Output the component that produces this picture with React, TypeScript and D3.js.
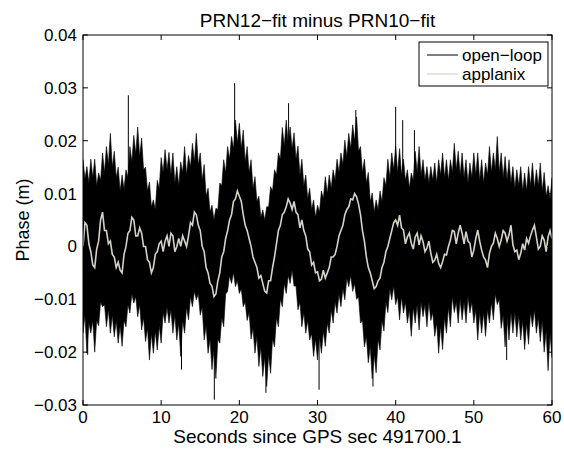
import React from "react";
import * as d3 from "d3";

// Sample spacing (s) for the series below
const T_STEP = 0.25;
// values below are in millimetres
const MM = 0.001;

const xTicks = [0, 10, 20, 30, 40, 50, 60];
const xTickLabels = ["0", "10", "20", "30", "40", "50", "60"];
const yTicks = [-0.03, -0.02, -0.01, 0, 0.01, 0.02, 0.03, 0.04];
const yTickLabels = ["\u22120.03", "\u22120.02", "\u22120.01", "0", "0.01", "0.02", "0.03", "0.04"];

const titleText = "PRN12\u2212fit minus PRN10\u2212fit";
const xLabelText = "Seconds since GPS sec 491700.1";
const yLabelText = "Phase (m)";
const seriesNames = ["open\u2212loop", "applanix"];

// open-loop: upper edge of the dense noise band (mm), every 0.25 s
const olUpper = [
  16.4, 12.8, 15.1, 12.0,
  16.5, 13.0, 16.5, 11.5,
  13.9, 12.5, 17.7, 14.0,
  18.9, 15.5, 21.4, 15.0,
  18.0, 13.0, 15.0, 10.5,
  13.5, 10.8, 14.5, 13.0,
  18.9, 16.0, 21.0, 17.5,
  22.6, 17.0, 20.5, 14.5,
  15.0, 10.5, 12.2, 7.5,
  8.8, 7.0, 12.5, 11.0,
  16.8, 14.0, 18.3, 14.5,
  17.8, 13.5, 17.7, 12.0,
  15.1, 11.5, 16.0, 14.0,
  18.9, 13.5, 17.2, 15.0,
  19.5, 16.0, 21.4, 15.5,
  17.7, 12.5, 15.5, 9.5,
  11.0, 6.5, 7.8, 5.0,
  7.2, 7.0, 12.0, 11.5,
  16.4, 14.0, 18.9, 16.5,
  20.8, 18.5, 23.9, 19.5,
  23.3, 18.5, 22.0, 16.0,
  18.9, 14.0, 16.4, 11.0,
  13.2, 8.5, 9.5, 5.5,
  6.9, 5.0, 7.5, 7.5,
  11.3, 10.5, 14.5, 13.5,
  17.7, 16.5, 22.5, 19.0,
  23.9, 19.5, 22.6, 18.5,
  21.5, 16.5, 19.0, 13.5,
  16.5, 11.5, 13.5, 9.0,
  11.0, 7.0, 8.8, 5.5,
  7.8, 6.5, 10.5, 9.0,
  13.2, 10.0, 13.5, 11.0,
  14.5, 12.5, 16.5, 14.0,
  17.7, 15.5, 20.1, 17.0,
  21.4, 18.5, 23.0, 20.0,
  24.5, 18.0, 18.9, 14.0,
  16.5, 12.0, 14.0, 8.5,
  10.1, 6.5, 8.8, 7.0,
  10.5, 8.5, 13.0, 11.5,
  16.5, 13.0, 17.7, 14.5,
  18.9, 14.0, 18.5, 13.5,
  16.5, 12.5, 14.5, 11.0,
  13.9, 12.5, 18.0, 14.0,
  18.9, 13.5, 16.4, 12.5,
  15.1, 12.0, 15.1, 12.5,
  15.8, 12.0, 16.4, 13.5,
  17.7, 13.0, 16.4, 12.5,
  16.4, 14.0, 19.5, 14.5,
  18.0, 13.5, 17.7, 13.0,
  16.4, 12.0, 15.8, 13.0,
  17.7, 13.5, 17.7, 12.5,
  16.4, 12.0, 15.8, 13.5,
  18.9, 14.0, 17.7, 14.5,
  20.8, 14.0, 17.7, 13.0,
  17.0, 12.5, 16.4, 12.0,
  15.1, 11.0, 14.5, 11.5,
  15.1, 10.5, 13.9, 10.5,
  15.1, 11.5, 15.8, 11.0,
  14.5, 11.5, 15.8, 10.5,
  14.0, 9.5, 11.5, 9.0,
  13.0,
];

// open-loop: lower edge of the noise band (mm), every 0.25 s
const olLower = [
  -16.4, -13.0, -20.2, -14.5,
  -16.4, -14.0, -20.0, -14.0,
  -15.0, -10.5, -11.4, -11.0,
  -15.2, -12.0, -16.4, -13.0,
  -17.1, -14.0, -18.3, -15.0,
  -18.9, -14.0, -15.2, -11.0,
  -12.6, -9.0, -10.7, -9.5,
  -13.3, -11.0, -15.8, -13.5,
  -18.0, -15.5, -21.5, -16.5,
  -20.2, -16.0, -19.6, -15.0,
  -18.3, -12.5, -14.5, -11.5,
  -14.5, -12.0, -16.4, -13.0,
  -17.7, -14.5, -20.8, -14.0,
  -16.4, -11.5, -13.9, -9.5,
  -11.4, -8.5, -10.1, -9.0,
  -13.0, -11.5, -17.7, -15.0,
  -20.2, -17.5, -23.3, -19.5,
  -25.0, -17.5, -18.3, -13.5,
  -15.2, -9.0, -8.5, -5.5,
  -7.0, -5.0, -7.6, -6.5,
  -8.9, -8.0, -11.4, -10.5,
  -14.0, -12.5, -17.5, -15.5,
  -20.2, -17.0, -22.7, -19.0,
  -24.6, -21.0, -26.5, -20.5,
  -24.0, -17.5, -19.0, -13.5,
  -15.2, -10.0, -11.4, -7.0,
  -8.9, -5.5, -7.0, -4.5,
  -7.5, -7.5, -12.0, -10.5,
  -15.2, -12.5, -16.4, -14.0,
  -17.7, -16.5, -20.8, -17.5,
  -21.5, -17.0, -20.2, -16.0,
  -18.9, -14.5, -16.4, -12.0,
  -14.5, -10.5, -12.6, -9.0,
  -11.4, -8.0, -10.1, -6.0,
  -7.6, -5.5, -8.5, -7.0,
  -10.0, -9.5, -14.5, -14.0,
  -19.0, -17.0, -22.0, -19.0,
  -25.0, -20.5, -23.9, -17.5,
  -19.6, -14.0, -16.0, -10.5,
  -12.5, -8.0, -10.1, -7.5,
  -11.0, -9.5, -13.9, -9.5,
  -12.6, -10.5, -14.5, -12.0,
  -17.0, -11.5, -14.5, -11.0,
  -15.8, -10.5, -13.3, -11.0,
  -15.2, -10.5, -14.0, -12.5,
  -17.0, -14.5, -20.2, -15.0,
  -19.5, -13.5, -16.4, -11.5,
  -15.2, -9.5, -12.5, -10.5,
  -14.5, -10.0, -13.9, -10.5,
  -14.5, -9.5, -12.6, -10.5,
  -14.5, -12.0, -17.7, -12.5,
  -16.4, -12.5, -17.0, -12.0,
  -14.5, -10.5, -13.9, -9.0,
  -11.0, -10.0, -15.5, -13.0,
  -19.0, -13.5, -17.7, -12.5,
  -16.4, -12.5, -17.1, -13.0,
  -17.7, -14.0, -19.5, -14.5,
  -18.5, -12.5, -15.2, -12.0,
  -16.4, -13.5, -18.0, -14.0,
  -20.0, -16.0, -23.5, -16.5,
  -21.0,
];

// isolated open-loop spikes: [seconds, mm]
const olSpikeT = [5.8, 19.4, 26.3, 34.9, 40.0, 40.9, 42.4, 16.8, 12.6, 23.4, 30.2, 37.1, 54.2, 0.6];
const olSpikeV = [28.6, 30.9, 27.1, 25.8, 26.4, 23.9, 22.0, -29.0, -23.3, -27.7, -27.1, -26.5, -21.5, -20.5];

// applanix (mm), every 0.25 s
const applanix = [
  0.0, 4.5, 4.0, 0.5,
  -1.0, -3.5, -4.0, -0.5,
  1.0, 5.0, 6.5, 3.0,
  3.0, 0.5, 1.0, -1.5,
  -2.0, -4.0, -3.0, -4.5,
  -5.0, -1.5, 0.0, 2.5,
  3.0, 5.5, 5.0, 2.0,
  2.0, 3.5, 2.5, 0.0,
  0.0, -2.5, -3.0, -5.0,
  -4.0, -1.5, -1.0, 0.5,
  1.0, -1.0, 1.0, 2.0,
  0.0, 2.5, 2.0, -1.0,
  0.0, 1.5, 0.0, 2.0,
  1.0, 0.0, 2.0, 4.5,
  4.0, 6.5, 6.0, 4.0,
  3.0, 0.0, -1.0, -4.0,
  -5.0, -7.0, -7.5, -9.5,
  -9.0, -6.5, -5.0, -2.0,
  -1.0, 1.5, 3.0, 5.0,
  6.0, 8.5, 9.0, 10.5,
  9.5, 8.5, 6.0, 4.0,
  3.0, 1.5, 0.0, -2.0,
  -3.0, -4.0, -6.0, -5.5,
  -7.0, -8.5, -8.8, -6.5,
  -6.5, -4.0, -2.0, 0.5,
  3.0, 4.0, 6.0, 6.5,
  7.5, 9.0, 8.2, 7.0,
  8.5, 6.5, 6.0, 3.5,
  5.0, 3.0, 2.0, -0.5,
  -1.0, -3.5, -3.0, -5.0,
  -4.8, -6.5, -6.2, -4.5,
  -6.0, -5.0, -4.0, -2.0,
  -2.0, -1.5, 0.0, 2.0,
  3.0, 4.0, 6.0, 7.0,
  7.5, 9.0, 8.8, 10.0,
  9.4, 8.0, 6.0, 3.0,
  1.0, -2.0, -4.0, -5.0,
  -6.5, -8.0, -7.6, -6.5,
  -6.0, -4.0, -3.0, -1.0,
  0.0, 1.5, 3.0, 4.5,
  5.0, 4.0, 5.9, 3.5,
  3.1, 0.5, 1.8, 2.5,
  0.6, -0.5, 1.8, 2.5,
  0.3, 2.0, 0.9, -1.0,
  -0.3, 1.0, -1.3, -3.0,
  -2.6, -1.5, -3.2, -4.0,
  -2.9, -1.5, -1.6, 0.0,
  1.2, 3.0, 2.8, 0.5,
  2.5, 4.0, 2.5, 0.5,
  2.8, 1.0, 0.6, -2.0,
  -0.7, 1.5, 3.1, 1.0,
  -0.7, -2.0, -2.6, -4.0,
  -1.3, 0.0, 0.6, 2.5,
  1.5, 0.0, 1.2, 3.0,
  2.5, 1.0, 2.2, 4.0,
  0.3, -1.0, -0.7, -2.5,
  -1.3, 0.5, -0.7, 1.5,
  0.6, 2.0, 3.1, 4.0,
  1.8, -0.5, 0.0, 2.0,
  1.2, -1.0, 1.8, 3.0,
  1.5,
];

const W = 564;
const H = 452;
const PL = 83;
const PR = 552;
const PT = 35;
const PB = 405;
const FONT = "'Liberation Sans', Arial, Helvetica, sans-serif";
const GRAY = "#d6d2c8";
const TICK = 5;

export default function App() {
  const x = d3.scaleLinear().domain([0, 60]).range([PL, PR]);
  const y = d3.scaleLinear().domain([-0.03, 0.04]).range([PB, PT]);

  const band = d3
    .area<number>()
    .x((_, i) => x(i * T_STEP))
    .y0((_, i) => y(olLower[i] * MM))
    .y1((d) => y(d * MM));

  const line = d3
    .line<number>()
    .x((_, i) => x(i * T_STEP))
    .y((d) => y(d * MM));

  return (
    <svg
      width={W}
      height={H}
      style={{ position: "absolute", left: 0, top: 0, background: "#fff" }}
      fontFamily={FONT}
    >
      <rect x={0} y={0} width={W} height={H} fill="#fff" />
      <defs>
        <clipPath id="plotclip">
          <rect x={PL} y={PT} width={PR - PL} height={PB - PT} />
        </clipPath>
      </defs>
      <g clipPath="url(#plotclip)">
        <path d={band(olUpper) || ""} fill="#000" stroke="#000" strokeWidth={0.6} />
        {olSpikeT.map((t, i) => (
          <line
            key={i}
            x1={x(t)}
            x2={x(t)}
            y1={y(olSpikeV[i] * MM)}
            y2={y(0)}
            stroke="#000"
            strokeWidth={1}
          />
        ))}
        <path d={line(applanix) || ""} fill="none" stroke={GRAY} strokeWidth={1.6} strokeLinejoin="miter" />
      </g>

      {/* axes box */}
      <rect x={PL} y={PT} width={PR - PL} height={PB - PT} fill="none" stroke="#000" strokeWidth={1} />
      {xTicks.map((t, i) => (
        <g key={"xt" + i}>
          <line x1={x(t)} x2={x(t)} y1={PB} y2={PB - TICK} stroke="#000" />
          <line x1={x(t)} x2={x(t)} y1={PT} y2={PT + TICK} stroke="#000" />
          <text x={x(t)} y={423} fontSize={17} textAnchor="middle">
            {xTickLabels[i]}
          </text>
        </g>
      ))}
      {yTicks.map((v, i) => (
        <g key={"yt" + i}>
          <line x1={PL} x2={PL + TICK} y1={y(v)} y2={y(v)} stroke="#000" />
          <line x1={PR} x2={PR - TICK} y1={y(v)} y2={y(v)} stroke="#000" />
          <text x={77} y={y(v) + 6} fontSize={17} textAnchor="end">
            {yTickLabels[i]}
          </text>
        </g>
      ))}

      <text x={(PL + PR) / 2} y={27} fontSize={19} textAnchor="middle">
        {titleText}
      </text>
      <text x={(PL + PR) / 2} y={443} fontSize={19} textAnchor="middle">
        {xLabelText}
      </text>
      <text
        transform={`translate(29, ${(PT + PB) / 2}) rotate(-90)`}
        fontSize={18}
        textAnchor="middle"
      >
        {yLabelText}
      </text>

      {/* legend */}
      <rect x={419} y={42} width={129} height={44} fill="#fff" stroke="#000" strokeWidth={1} />
      <line x1={427} x2={458} y1={55} y2={55} stroke="#000" strokeWidth={1} />
      <line x1={427} x2={458} y1={74} y2={74} stroke={GRAY} strokeWidth={1.2} />
      <text x={462} y={61} fontSize={17}>
        {seriesNames[0]}
      </text>
      <text x={462} y={80} fontSize={17}>
        {seriesNames[1]}
      </text>
    </svg>
  );
}
